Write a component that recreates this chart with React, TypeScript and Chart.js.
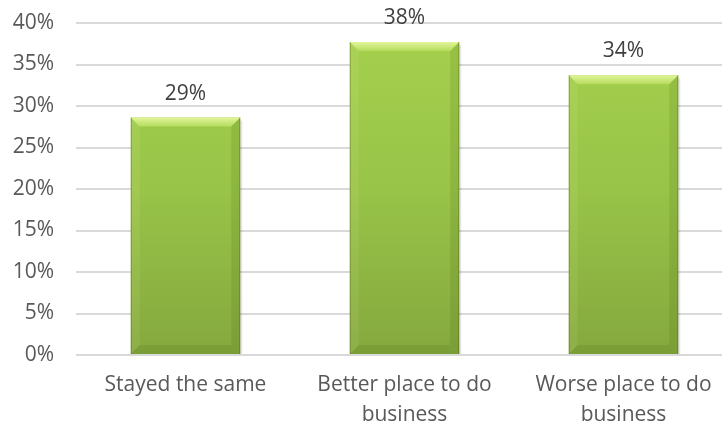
import React, { useEffect, useRef } from "react";
import { Chart, registerables } from "chart.js";

Chart.register(...registerables);

const categories: (string | string[])[] = [
  "Stayed the same",
  ["Better place to do", "business"],
  ["Worse place to do", "business"],
];
const values = [28.6, 37.7, 33.7];
const labelsText = ["29%", "38%", "34%"];
const yTicks = [0, 5, 10, 15, 20, 25, 30, 35, 40];

const FONT = "'Open Sans', 'Liberation Sans', sans-serif";

const bevelPlugin = {
  id: "bevel",
  afterDatasetsDraw(chart: any) {
    const ctx = chart.ctx;
    const meta = chart.getDatasetMeta(0);
    meta.data.forEach((bar: any, i: number) => {
      const { x, y, base, width } = bar.getProps(["x", "y", "base", "width"], true);
      const l = x - width / 2;
      const r = x + width / 2;
      const b = 9;
      ctx.save();
      // top bevel
      ctx.beginPath();
      ctx.moveTo(l, y);
      ctx.lineTo(r, y);
      ctx.lineTo(r - b, y + b);
      ctx.lineTo(l + b, y + b);
      ctx.closePath();
      const tg = ctx.createLinearGradient(0, y, 0, y + b);
      tg.addColorStop(0, "#e2f59a");
      tg.addColorStop(1, "#b4dc5c");
      ctx.fillStyle = tg;
      ctx.fill();
      // left bevel
      ctx.beginPath();
      ctx.moveTo(l, y);
      ctx.lineTo(l + b, y + b);
      ctx.lineTo(l + b, base - b);
      ctx.lineTo(l, base);
      ctx.closePath();
      ctx.fillStyle = "rgba(255,255,200,0.08)";
      ctx.fill();
      // right bevel
      ctx.beginPath();
      ctx.moveTo(r, y);
      ctx.lineTo(r - b, y + b);
      ctx.lineTo(r - b, base - b);
      ctx.lineTo(r, base);
      ctx.closePath();
      ctx.fillStyle = "rgba(60,80,10,0.12)";
      ctx.fill();
      // bottom bevel
      ctx.beginPath();
      ctx.moveTo(l, base);
      ctx.lineTo(l + b, base - b);
      ctx.lineTo(r - b, base - b);
      ctx.lineTo(r, base);
      ctx.closePath();
      ctx.fillStyle = "rgba(60,80,10,0.12)";
      ctx.fill();
      // edges
      ctx.fillStyle = "rgba(60,80,10,0.35)";
      ctx.fillRect(l, y, 1, base - y);
      ctx.fillRect(r - 1, y, 1, base - y);
      // shadow on right
      ctx.fillStyle = "rgba(0,0,0,0.10)";
      ctx.fillRect(r, y + 3, 2, base - y - 3);
      // label
      ctx.fillStyle = "#404040";
      ctx.font = `21px ${FONT}`;
      ctx.textAlign = "center";
      ctx.textBaseline = "middle";
      ctx.fillText(labelsText[i], x, y - 24);
      ctx.restore();
    });
  },
};

export default function App() {
  const ref = useRef<HTMLCanvasElement>(null);
  useEffect(() => {
    document.body.style.overflow = "hidden";
    const canvas = ref.current!;
    const chart = new Chart(canvas, {
      type: "bar",
      data: {
        labels: categories,
        datasets: [
          {
            data: values,
            backgroundColor: (c: any) => {
              const area = c.chart.chartArea;
              if (!area) return "#92c045";
              const g = c.chart.ctx.createLinearGradient(0, area.top, 0, area.bottom);
              g.addColorStop(0, "#a6d14e");
              g.addColorStop(0.5, "#98c448");
              g.addColorStop(1, "#85a83e");
              return g;
            },
            borderWidth: 0,
            barPercentage: 0.5,
            categoryPercentage: 1,
          },
        ],
      },
      options: {
        animation: false,
        responsive: false,
        maintainAspectRatio: false,
        layout: { padding: { top: 23, right: 0, left: 0, bottom: 0 } },
        plugins: { legend: { display: false }, tooltip: { enabled: false } },
        scales: {
          x: {
            grid: { display: false, drawTicks: false },
            border: { display: false },
            ticks: {
              color: "#595959",
              font: { family: FONT, size: 21, lineHeight: 1.42 },
              padding: 15,
              maxRotation: 0,
              autoSkip: false,
            },
            afterFit: (s: any) => {
              s.height = 70;
              s.paddingLeft = 0;
              s.paddingRight = 0;
            },
          },
          y: {
            min: 0,
            max: 40,
            afterBuildTicks: (s: any) => {
              s.ticks = yTicks.map((v) => ({ value: v }));
            },
            grid: { color: "#d9d9d9", lineWidth: 2, drawTicks: false },
            border: { display: false },
            ticks: {
              color: "#595959",
              font: { family: FONT, size: 21 },
              padding: 22,
              callback: (v: any) => v + "%",
            },
            afterFit: (s: any) => {
              s.width = 76;
              s.paddingTop = 0;
              s.paddingBottom = 0;
            },
          },
        },
      },
      plugins: [bevelPlugin],
    });
    return () => chart.destroy();
  }, []);
  return (
    <div style={{ position: "absolute", left: 0, top: 0, width: 733, height: 425, background: "#fff" }}>
      <canvas ref={ref} width={733} height={425} style={{ width: 733, height: 425 }} />
    </div>
  );
}
